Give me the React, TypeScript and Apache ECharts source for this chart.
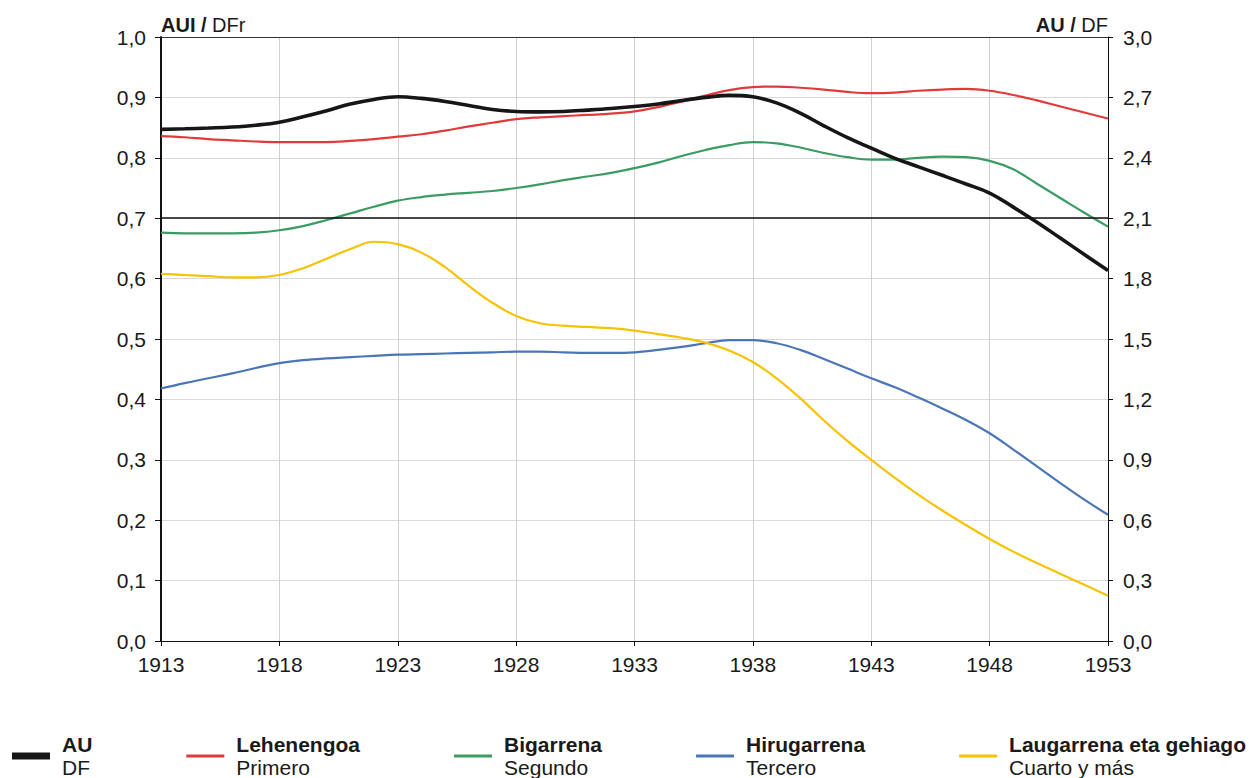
import React, { useEffect, useRef } from "react";
import * as echarts from "echarts";

const years = [
  "1913", "1914", "1915", "1916", "1917", "1918", "1919", "1920", "1921", "1922",
  "1923", "1924", "1925", "1926", "1927", "1928", "1929", "1930", "1931", "1932",
  "1933", "1934", "1935", "1936", "1937", "1938", "1939", "1940", "1941", "1942",
  "1943", "1944", "1945", "1946", "1947", "1948", "1949", "1950", "1951", "1952", "1953",
];

// AU (right axis, DF)
const auDF = [
  2.541, 2.544, 2.548, 2.553, 2.562, 2.577, 2.604, 2.634, 2.667, 2.69,
  2.703, 2.695, 2.68, 2.66, 2.64, 2.63, 2.628, 2.63, 2.637, 2.645,
  2.655, 2.667, 2.685, 2.70, 2.71, 2.703, 2.673, 2.622, 2.559, 2.50,
  2.448, 2.397, 2.355, 2.313, 2.27, 2.225, 2.155, 2.08, 2.00, 1.92, 1.84,
];
// Left axis (AUI / DFr)
const lehenengoa = [
  0.836, 0.834, 0.831, 0.829, 0.827, 0.826, 0.826, 0.826, 0.828, 0.831,
  0.835, 0.839, 0.845, 0.852, 0.858, 0.864, 0.867, 0.869, 0.871, 0.873,
  0.877, 0.884, 0.893, 0.903, 0.912, 0.917, 0.918, 0.916, 0.913, 0.909,
  0.907, 0.908, 0.911, 0.913, 0.914, 0.911, 0.904, 0.895, 0.885, 0.875, 0.865,
];
const bigarrena = [
  0.676, 0.675, 0.675, 0.675, 0.676, 0.680, 0.687, 0.697, 0.708, 0.719,
  0.729, 0.735, 0.739, 0.742, 0.745, 0.750, 0.756, 0.763, 0.769, 0.775,
  0.783, 0.792, 0.803, 0.813, 0.821, 0.826, 0.824, 0.817, 0.808, 0.801,
  0.797, 0.797, 0.800, 0.802, 0.801, 0.795, 0.781, 0.757, 0.733, 0.709, 0.686,
];
const hirugarrena = [
  0.418, 0.427, 0.435, 0.443, 0.452, 0.460, 0.465, 0.468, 0.470, 0.472,
  0.474, 0.475, 0.476, 0.477, 0.478, 0.479, 0.479, 0.478, 0.477, 0.477,
  0.478, 0.482, 0.487, 0.493, 0.498, 0.498, 0.493, 0.482, 0.467, 0.451,
  0.435, 0.420, 0.403, 0.385, 0.366, 0.344, 0.317, 0.289, 0.261, 0.234, 0.209,
];
const laugarrena = [
  0.608, 0.606, 0.604, 0.602, 0.602, 0.606, 0.617, 0.633, 0.649, 0.661,
  0.657, 0.643, 0.619, 0.588, 0.560, 0.538, 0.526, 0.522, 0.520, 0.518,
  0.514, 0.508, 0.502, 0.494, 0.481, 0.462, 0.435, 0.402, 0.365, 0.331,
  0.300, 0.270, 0.242, 0.216, 0.192, 0.169, 0.148, 0.129, 0.111, 0.093, 0.075,
];

const seriesNames = ["AU", "Lehenengoa", "Bigarrena", "Hirugarrena", "Laugarrena eta gehiago"];
const seriesSubs = ["DF", "Primero", "Segundo", "Tercero", "Cuarto y más"];
const seriesColors = ["#161616", "#e2393b", "#3a9c62", "#4a76b8", "#f7c200"];
const referenceLines = [0.7, 1.0];

const FONT = "'Liberation Sans', Arial, Helvetica, sans-serif";
const TXT = "#1a1a1a";

const fmt = (v: number) => v.toFixed(1).replace(".", ",");

export default function App() {
  const ref = useRef<HTMLDivElement>(null);
  useEffect(() => {
    if (!ref.current) return;
    const chart = echarts.init(ref.current, undefined, { renderer: "svg" });
    const subMap: Record<string, string> = {};
    seriesNames.forEach((n, i) => (subMap[n] = seriesSubs[i]));
    const leftData = [lehenengoa, bigarrena, hirugarrena, laugarrena];

    const option: any = {
      animation: false,
      textStyle: { fontFamily: FONT, color: TXT },
      grid: { left: 161, right: 143, top: 37, bottom: 137, containLabel: false },
      legend: {
        left: 12,
        top: 734,
        padding: 0,
        orient: "horizontal",
        itemWidth: 38,
        itemHeight: 14,
        itemGap: 94,
        itemStyle: { borderWidth: 0 },
        selectedMode: false,
        data: seriesNames.map((n, i) => ({
          name: n,
          icon: i === 0 ? "path://M0,0H38V7H0Z" : "path://M0,0H38V3H0Z",
        })),
        formatter: (name: string) => `{b|${name}}\n{r|${subMap[name]}}`,
        textStyle: {
          fontFamily: FONT,
          color: TXT,
          padding: [0, 0, 0, 7],
          rich: {
            b: { fontFamily: FONT, fontWeight: "bold", fontSize: 21, lineHeight: 23, color: TXT },
            r: { fontFamily: FONT, fontSize: 21, lineHeight: 23, color: TXT },
          },
        },
      },
      xAxis: {
        type: "category",
        data: years,
        boundaryGap: false,
        axisLine: { onZero: false, lineStyle: { color: "#111", width: 1 } },
        axisTick: { show: true, interval: 4, length: 5, lineStyle: { color: "#111" } },
        axisLabel: { interval: 4, fontSize: 21, color: TXT, fontFamily: FONT, margin: 13 },
        splitLine: { show: true, interval: 4, lineStyle: { color: "#d0d0d0", width: 1 } },
      },
      yAxis: [
        {
          type: "value",
          min: 0,
          max: 1,
          interval: 0.1,
          position: "left",
          name: "{b|AUI /} DFr",
          nameLocation: "end",
          nameGap: 2,
          nameTextStyle: {
            align: "left",
            verticalAlign: "bottom",
            fontSize: 20,
            fontFamily: FONT,
            color: TXT,
            rich: { b: { fontWeight: "bold", fontSize: 20, fontFamily: FONT, color: TXT } },
          },
          axisLine: { show: true, lineStyle: { color: "#111", width: 2 } },
          axisTick: { show: true, length: 6, lineStyle: { color: "#111" } },
          axisLabel: { fontSize: 21, color: TXT, fontFamily: FONT, margin: 15, formatter: fmt },
          splitLine: { show: true, lineStyle: { color: "#d9d9d9", width: 1.2 } },
        },
        {
          type: "value",
          min: 0,
          max: 3,
          interval: 0.3,
          position: "right",
          name: "{b|AU /} DF",
          nameLocation: "end",
          nameGap: 2,
          nameTextStyle: {
            align: "right",
            verticalAlign: "bottom",
            fontSize: 20,
            fontFamily: FONT,
            color: TXT,
            rich: { b: { fontWeight: "bold", fontSize: 20, fontFamily: FONT, color: TXT } },
          },
          axisLine: { show: true, lineStyle: { color: "#111", width: 1 } },
          axisTick: { show: true, length: 5, lineStyle: { color: "#111" } },
          axisLabel: { fontSize: 21, color: TXT, fontFamily: FONT, margin: 15, formatter: fmt },
          splitLine: { show: false },
        },
      ],
      series: [
        ...leftData.map((d, i) => ({
          name: seriesNames[i + 1],
          type: "line",
          yAxisIndex: 0,
          data: d,
          smooth: 0.4,
          showSymbol: false,
          symbol: "none",
          color: seriesColors[i + 1],
          lineStyle: { color: seriesColors[i + 1], width: 2.2 },
          z: 2,
          markLine:
            i === 0
              ? {
                  silent: true,
                  symbol: ["none", "none"],
                  label: { show: false },
                  animation: false,
                  data: referenceLines.map((v, k) => ({
                    yAxis: v,
                    lineStyle: { color: k === 0 ? "#111" : "#333", width: k === 0 ? 1.6 : 1, type: "solid" },
                  })),
                }
              : undefined,
        })),
        {
          name: seriesNames[0],
          type: "line",
          yAxisIndex: 1,
          data: auDF,
          smooth: 0.4,
          showSymbol: false,
          symbol: "none",
          color: seriesColors[0],
          lineStyle: { color: seriesColors[0], width: 3.6 },
          z: 4,
        },
      ],
    };
    chart.setOption(option);
    return () => chart.dispose();
  }, []);
  return (
    <div
      ref={ref}
      style={{ position: "fixed", left: 0, top: 0, width: 1251, height: 778, background: "#fff" }}
    />
  );
}
